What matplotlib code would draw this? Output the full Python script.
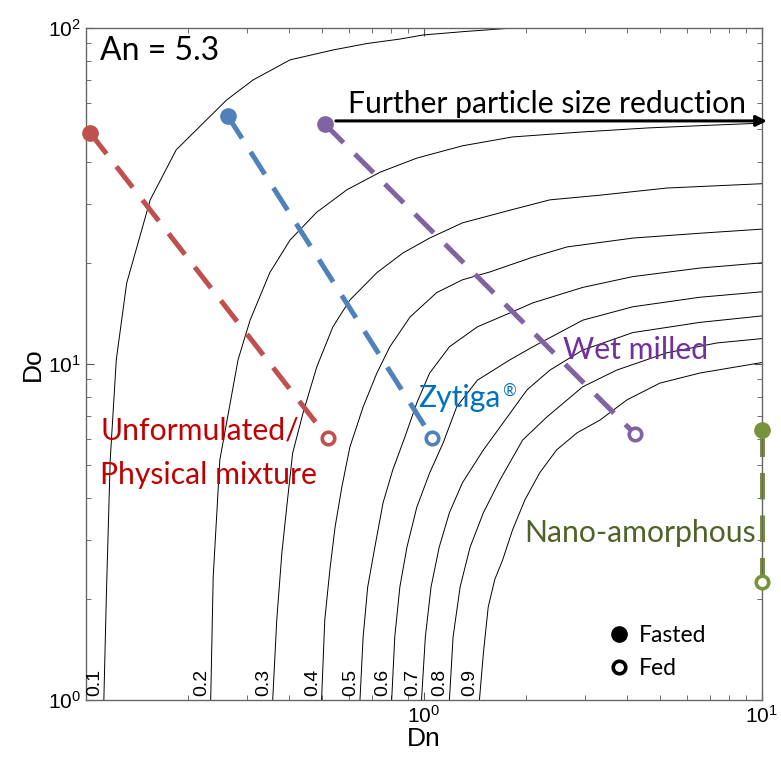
import matplotlib
matplotlib.use("Agg")
import matplotlib.pyplot as plt
from matplotlib.lines import Line2D

plt.rcParams['font.family'] = ['Liberation Sans', 'DejaVu Sans']
plt.rcParams['mathtext.fontset'] = 'custom'
plt.rcParams['mathtext.rm'] = 'Liberation Sans'
plt.rcParams['mathtext.it'] = 'Liberation Sans:italic'

# fraction-absorbed contours (Dn, Do)
levels = ['0.1', '0.2', '0.3', '0.4', '0.5', '0.6', '0.7', '0.8', '0.9']

c01_dn = [0.113, 0.115, 0.118, 0.123, 0.132, 0.155, 0.185, 0.261, 0.312, 0.402, 0.538,
          0.678, 0.849, 0.993, 1.30, 1.83]
c01_do = [1.0, 2.08, 5.18, 10.3, 17.4, 30.8, 43.4, 61.1, 70.0, 80.4, 86.0,
          89.9, 92.7, 95.3, 97.5, 100]

c02_dn = [0.234, 0.238, 0.249, 0.282, 0.306, 0.350, 0.402, 0.482, 0.592, 0.741, 0.953,
          1.30, 1.83, 2.90, 4.57, 7.16, 10]
c02_do = [1.0, 2.32, 5.18, 10.3, 13.5, 18.7, 23.4, 28.3, 33.0, 37.2, 41.0,
          44.6, 47.4, 49.0, 50.4, 51.4, 52.1]

c03_dn = [0.357, 0.367, 0.380, 0.394, 0.409, 0.439, 0.482, 0.538, 0.604, 0.726, 0.867,
          1.04, 1.30, 1.80, 2.36, 3.32, 5.24, 10]
c03_do = [1.0, 1.73, 2.74, 3.86, 5.43, 7.15, 9.80, 12.9, 15.5, 18.7, 21.4,
          23.7, 26.3, 28.7, 30.8, 31.8, 33.4, 34.4]

c04_dn = [0.498, 0.509, 0.527, 0.546, 0.572, 0.604, 0.661, 0.726, 0.793, 0.910, 1.09,
          1.30, 1.57, 2.10, 2.65, 4.15, 6.56, 10]
c04_do = [1.0, 1.73, 2.44, 3.27, 4.31, 5.66, 7.45, 9.40, 11.25, 13.8, 16.3,
          17.8, 18.8, 20.8, 22.3, 23.7, 24.5, 25.2]

c05_dn = [0.647, 0.661, 0.682, 0.716, 0.757, 0.809, 0.879, 0.953, 1.04, 1.19, 1.44,
          1.80, 2.10, 2.95, 4.15, 6.56, 10]
c05_do = [1.0, 1.54, 2.17, 2.85, 3.86, 4.84, 6.07, 7.66, 9.40, 11.25, 12.9,
          14.2, 15.2, 16.9, 18.2, 19.3, 20.0]

c06_dn = [0.803, 0.820, 0.849, 0.891, 0.953, 1.04, 1.14, 1.25, 1.44, 1.80, 2.10,
          2.95, 4.15, 6.56, 10]
c06_do = [1.0, 1.54, 2.17, 2.85, 3.75, 4.74, 5.82, 7.45, 8.95, 10.3, 11.25,
          13.5, 14.8, 15.8, 16.4]

c07_dn = [0.984, 1.01, 1.05, 1.11, 1.19, 1.30, 1.50, 1.68, 2.02, 2.36, 2.95,
          4.15, 6.56, 10]
c07_do = [1.0, 1.54, 2.17, 2.85, 3.61, 4.43, 5.55, 6.49, 8.38, 9.59, 11.0,
          12.4, 13.3, 13.9]

c08_dn = [1.19, 1.22, 1.28, 1.37, 1.50, 1.68, 1.96, 2.31, 2.95, 3.72, 5.24, 7.36, 10]
c08_do = [1.0, 1.54, 2.17, 2.85, 3.61, 4.52, 5.94, 6.95, 8.55, 9.59, 10.8, 11.55, 11.9]

c09_dn = [1.46, 1.50, 1.55, 1.62, 1.71, 1.83, 1.99, 2.20, 2.47, 2.84, 3.32,
          3.99, 4.99, 6.56, 10]
c09_do = [1.0, 1.38, 1.89, 2.28, 2.61, 3.21, 3.94, 4.74, 5.55, 6.24, 6.81,
          7.82, 8.77, 9.40, 10.1]

contours_dn = [c01_dn, c02_dn, c03_dn, c04_dn, c05_dn, c06_dn, c07_dn, c08_dn, c09_dn]
contours_do = [c01_do, c02_do, c03_do, c04_do, c05_do, c06_do, c07_do, c08_do, c09_do]

# formulations: [fasted, fed]
form_names = ['Unformulated', 'Zytiga', 'Wet milled', 'Nano-amorphous']
form_dn = [[0.103, 0.521], [0.263, 1.06], [0.509, 4.21], [10.0, 10.0]]
form_do = [[48.7, 6.01], [54.7, 6.01], [51.8, 6.19], [6.36, 2.25]]
form_colors = ['#C0504D', '#4F81BD', '#8064A2', '#77933C']

arrow_do = 52.9
arrow_dn = [0.549, 10.35]

fig = plt.figure(figsize=(7.81, 7.61), dpi=100)
ax = fig.add_axes([0.110, 0.0802, 0.8655, 0.883])
ax.set_xscale('log')
ax.set_yscale('log')
ax.set_xlim(0.1, 10)
ax.set_ylim(1, 100)
ax.set_xticks([1, 10])
ax.set_yticks([1, 10, 100])

for lab, dn, do in zip(levels, contours_dn, contours_do):
    ax.plot(dn, do, color='k', lw=0.7)
    ax.annotate(lab, xy=(dn[0], do[0]), xytext=(-0.5, 2.5), textcoords='offset points',
                rotation=90, ha='right', va='bottom', fontsize=14)

for name, dn, do, col in zip(form_names, form_dn, form_do, form_colors):
    ax.plot(dn, do, color=col, lw=3.6, dashes=(5.3, 3.2), clip_on=False)
    ax.plot(dn[0], do[0], 'o', color=col, ms=11, clip_on=False, zorder=5)
    ax.plot(dn[1], do[1], 'o', mfc='white', mec=col, mew=2.6, ms=9, clip_on=False, zorder=5)

ax.annotate('', xy=(arrow_dn[1], arrow_do), xytext=(arrow_dn[0], arrow_do),
            arrowprops=dict(arrowstyle='-|>', lw=2.2, color='k', mutation_scale=16,
                            shrinkA=0, shrinkB=0),
            annotation_clip=False)

tf = dict(family=['Lato', 'DejaVu Sans'], fontsize=21.7)
ax.text(0.021, 0.952, 'An = 5.3', transform=ax.transAxes, color='k', va='baseline',
        family=['Lato', 'DejaVu Sans'], fontsize=23)
ax.text(0.388, 0.873, 'Further particle size reduction', transform=ax.transAxes,
        color='k', va='baseline', **tf)
ax.text(0.021, 0.387, 'Unformulated/', transform=ax.transAxes, color='#C00000',
        va='baseline', **tf)
ax.text(0.021, 0.3214, 'Physical mixture', transform=ax.transAxes, color='#C00000',
        va='baseline', **tf)
ax.text(0.491, 0.4365, 'Zytiga', transform=ax.transAxes, color='#0070C0',
        va='baseline', **tf)
ax.text(0.616, 0.452, '®', transform=ax.transAxes, color='#0070C0',
        va='baseline', family=['Lato', 'DejaVu Sans'], fontsize=12)
ax.text(0.7056, 0.507, 'Wet milled', transform=ax.transAxes, color='#7030A0',
        va='baseline', **tf)
ax.text(0.649, 0.2356, 'Nano-amorphous', transform=ax.transAxes, color='#4F6228',
        va='baseline', **tf)

handles = [Line2D([], [], marker='o', color='k', ls='none', ms=11),
           Line2D([], [], marker='o', mfc='white', mec='k', mew=2.6, ms=9, ls='none')]
ax.legend(handles, ['Fasted', 'Fed'], loc='upper left', bbox_to_anchor=(0.755, 0.125),
          frameon=False, prop=dict(family='Lato', size=16.5), handletextpad=0.25,
          labelspacing=0.5, handlelength=1.2, borderaxespad=0)

ax.set_xlabel('Dn', fontsize=19, labelpad=0)
ax.set_ylabel('Do', fontsize=19, labelpad=2)
ax.tick_params(which='both', direction='in', top=True, right=True, colors='#555555',
               labelcolor='k', labelsize=15)
ax.tick_params(which='major', length=6)
ax.tick_params(which='minor', length=3.5)
for s in ax.spines.values():
    s.set_color('#666666')
    s.set_linewidth(1.0)

fig.savefig('out.png', dpi=100)
